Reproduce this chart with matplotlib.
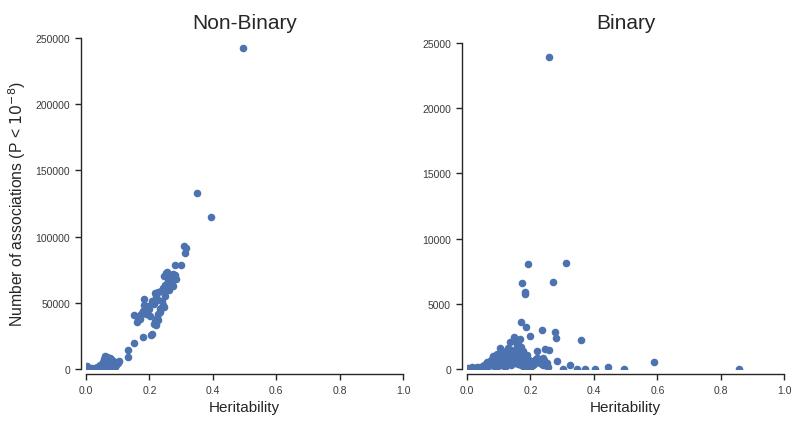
import matplotlib
matplotlib.use("Agg")
import matplotlib.pyplot as plt

# ---------------- data ----------------
nb_h2 = [0.004, 0.010, 0.015, 0.020, 0.025, 0.030, 0.035, 0.040, 0.045, 0.050,
         0.052, 0.055, 0.058, 0.060, 0.062, 0.065, 0.068, 0.070, 0.072, 0.075,
         0.078, 0.080, 0.083, 0.085, 0.088, 0.090, 0.093, 0.095, 0.100, 0.104,
         0.057, 0.060, 0.065, 0.070, 0.075, 0.080, 0.086, 0.060, 0.067, 0.073,
         0.050, 0.045, 0.020, 0.035,
         0.131, 0.134, 0.150, 0.179, 0.209, 0.205,
         0.152, 0.160, 0.165, 0.170, 0.175, 0.168, 0.183, 0.184, 0.180, 0.188,
         0.191, 0.196, 0.200, 0.202, 0.207, 0.212, 0.218, 0.215, 0.222, 0.228,
         0.214, 0.217, 0.220, 0.223, 0.226, 0.228, 0.232, 0.233, 0.238, 0.240,
         0.244, 0.247, 0.249, 0.245, 0.244, 0.250, 0.255, 0.259, 0.262, 0.270,
         0.275, 0.246, 0.251, 0.256, 0.265, 0.270, 0.280, 0.283, 0.275, 0.280,
         0.300, 0.308, 0.317, 0.313, 0.236, 0.228,
         0.350, 0.393, 0.496]
nb_n = [2800, 500, 300, 600, 200, 800, 1500, 2000, 3000, 2500,
        4000, 5500, 8000, 9800, 7000, 9200, 6000, 8800, 5000, 8500,
        4000, 7800, 3000, 6500, 2500, 5500, 1500, 3500, 4500, 6500,
        1000, 2000, 500, 1500, 800, 1200, 700, 3500, 4500, 3000,
        1500, 1000, 1200, 900,
        9500, 14800, 20000, 24000, 26800, 25500,
        40800, 35300, 38500, 37800, 41500, 40000, 48300, 53300, 44000, 42000,
        44000, 47800, 45500, 40300, 51600, 50500, 57800, 49000, 55000, 52000,
        34000, 36500, 33500, 39000, 37000, 41500, 43000, 45300, 46500, 51600,
        48500, 47000, 55300, 58000, 61300, 63300, 60000, 66600, 59500, 64000,
        62800, 70300, 72800, 73500, 71300, 69000, 70800, 68000, 72000, 78600,
        78800, 92600, 91300, 87300, 59000, 58500,
        132600, 114600, 242200]

bin_h2 = [0.004, 0.015, 0.030, 0.040, 0.050, 0.055, 0.060, 0.062, 0.065, 0.070,
          0.072, 0.075, 0.078, 0.080, 0.083, 0.085, 0.088, 0.090, 0.093, 0.095,
          0.098, 0.100, 0.104, 0.108, 0.110, 0.115, 0.120, 0.125, 0.130, 0.135,
          0.140, 0.145, 0.150, 0.155, 0.160, 0.165, 0.170, 0.175, 0.180, 0.185,
          0.190, 0.195, 0.200, 0.205, 0.210, 0.215, 0.220, 0.225, 0.230, 0.235,
          0.240, 0.245, 0.250, 0.255, 0.110, 0.120, 0.130, 0.140, 0.150, 0.160,
          0.170, 0.180, 0.190, 0.200, 0.125, 0.145, 0.165, 0.095, 0.085, 0.135,
          0.083, 0.093, 0.062, 0.104, 0.135, 0.149, 0.157, 0.167, 0.186, 0.219,
          0.234, 0.222, 0.246, 0.258,
          0.112, 0.118, 0.128, 0.138, 0.142, 0.152, 0.158, 0.162, 0.172, 0.178,
          0.188, 0.208, 0.212, 0.228, 0.238, 0.242, 0.252, 0.105, 0.148, 0.175,
          0.170, 0.185, 0.237, 0.278, 0.199, 0.279, 0.359,
          0.173, 0.272, 0.182, 0.184, 0.192, 0.312, 0.260,
          0.283, 0.588, 0.325, 0.445, 0.496, 0.857, 0.372, 0.403, 0.304, 0.346]
bin_n = [100, 150, 200, 150, 250, 300, 400, 200, 500, 350,
         600, 300, 800, 450, 700, 1000, 500, 900, 400, 1100,
         700, 600, 1200, 800, 1400, 900, 1300, 1000, 1600, 1100,
         1500, 1200, 2200, 1400, 1900, 1300, 1700, 1000, 1200, 900,
         800, 700, 600, 500, 400, 700, 900, 600, 500, 400,
         300, 350, 300, 200, 300, 200, 400, 300, 500, 400,
         300, 200, 150, 100, 700, 900, 600, 200, 250, 500,
         1050, 1170, 540, 1660, 2070, 2500, 1810, 2320, 920, 790,
         660, 1380, 1560, 1500,
         1000, 600, 1200, 900, 1300, 1000, 1600, 800, 600, 1400,
         1100, 300, 600, 800, 900, 700, 500, 400, 700, 500,
         3600, 3270, 2980, 2880, 2550, 2400, 2220,
         6580, 6660, 5940, 5790, 8040, 8160, 23930,
         610, 540, 360, 150, 50, 0, 50, 25, 30, 30]

titles = ["Non-Binary", "Binary"]
xticks = [0.0, 0.2, 0.4, 0.6, 0.8, 1.0]
yticks_nb = [0, 50000, 100000, 150000, 200000, 250000]
yticks_b = [0, 5000, 10000, 15000, 20000, 25000]

# ---------------- style ----------------
plt.rcParams['font.family'] = ['Liberation Sans', 'DejaVu Sans']
dark = '#262626'
blue = '#4C72B0'
DPI = 100
fig = plt.figure(figsize=(8, 4.27), dpi=DPI)

H = 427.0
W = 800.0
ax1 = fig.add_axes([86 / W, (H - 370.3) / H, 317 / W, 333 / H])
ax2 = fig.add_axes([467 / W, (H - 370.3) / H, 317.3 / W, 333 / H])

off = 5 * 72 / DPI  # outward offset in points

for ax, x, y, title, yt, ytop in [
        (ax1, nb_h2, nb_n, titles[0], yticks_nb, 250000 * 1.004),
        (ax2, bin_h2, bin_n, titles[1], yticks_b, 25000 * 333 / 326.6)]:
    ax.scatter(x, y, s=30, color=blue, linewidths=0, zorder=3)
    ax.set_xlim(0, 1.0)
    ax.set_ylim(0, ytop)
    ax.set_xticks(xticks)
    ax.set_xticklabels([f"{v:.1f}" for v in xticks])
    ax.set_yticks(yt)
    ax.set_yticklabels([str(v) for v in yt])
    for s in ['top', 'right']:
        ax.spines[s].set_visible(False)
    for s in ['left', 'bottom']:
        ax.spines[s].set_position(('outward', off))
        ax.spines[s].set_color(dark)
        ax.spines[s].set_linewidth(1.0)
    ax.spines['bottom'].set_bounds(0, 1.0)
    ax.spines['left'].set_bounds(0, yt[-1])
    ax.tick_params(axis='both', direction='out', length=4.5, width=1.0,
                   color=dark, labelcolor='#3a3a3a', labelsize=7.5)
    ax.set_title(title, fontsize=15, color=dark, pad=6)
    ax.set_xlabel("Heritability", fontsize=11, color=dark, labelpad=3)

ax1.set_ylabel(r"Number of associations (P < $10^{-8}$)", fontsize=11.3,
               color=dark, labelpad=5)

fig.savefig("out.png", dpi=DPI)
